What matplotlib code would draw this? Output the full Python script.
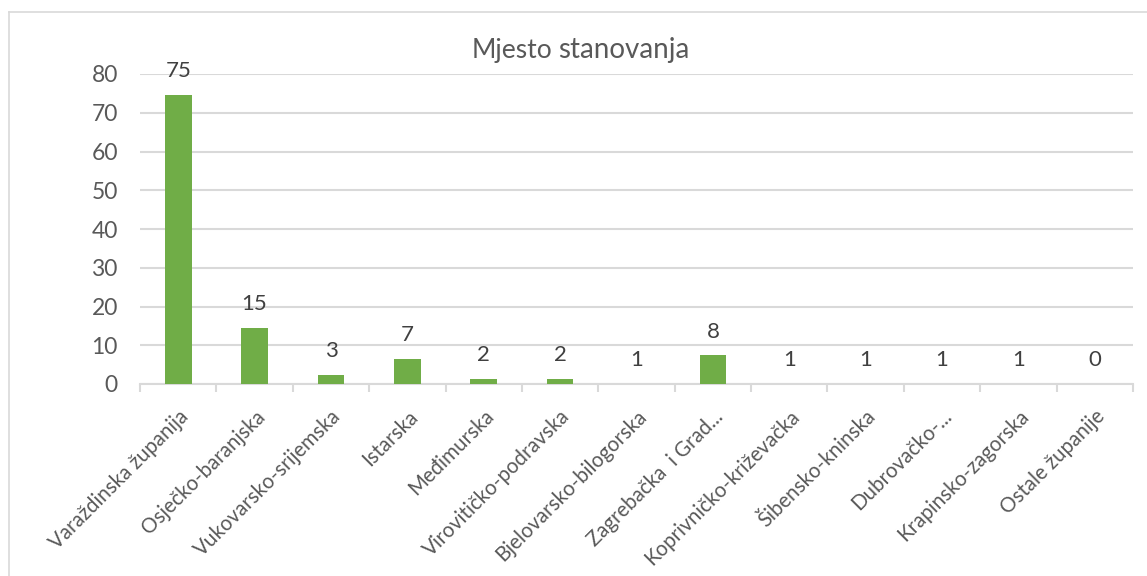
import matplotlib
matplotlib.use("Agg")
import matplotlib.pyplot as plt
from matplotlib.lines import Line2D
import numpy as np

categories = ["Varaždinska županija", "Osječko-baranjska", "Vukovarsko-srijemska",
              "Istarska", "Međimurska", "Virovitičko-podravska", "Bjelovarsko-bilogorska",
              "Zagrebačka  i Grad...", "Koprivničko-križevačka", "Šibensko-kninska",
              "Dubrovačko-...", "Krapinsko-zagorska", "Ostale županije"]
bar_values = [74.6, 14.5, 2.4, 6.5, 1.4, 1.4, 0.1, 7.4, 0.1, 0.1, 0.1, 0.1, 0.0]
data_labels = ["75", "15", "3", "7", "2", "2", "1", "8", "1", "1", "1", "1", "0"]
yticks = [0, 10, 20, 30, 40, 50, 60, 70, 80]

plt.rcParams['font.family'] = ['Lato', 'DejaVu Sans']

W, H = 1147, 576
fig = plt.figure(figsize=(W / 100, H / 100), dpi=100)
ax = fig.add_axes([140 / W, 1 - 384 / H, (1133 - 140) / W, (384 - 74) / H])

x = np.arange(len(categories))
ax.bar(x, bar_values, width=0.35, color="#70ad47", zorder=3)

for xi, v, lab in zip(x, bar_values, data_labels):
    ax.annotate(lab, (xi, v), xytext=(0, 17), textcoords="offset points",
                ha="center", va="center", fontsize=16, color="#404040")

ax.set_xlim(-0.5, len(categories) - 0.5)
ax.set_ylim(0, 80)
ax.set_yticks(yticks)
ax.set_yticklabels([str(t) for t in yticks], fontsize=16.5, color="#595959")
ax.tick_params(axis="y", length=0, pad=16)
ax.yaxis.grid(True, color="#d9d9d9", linewidth=1.5, zorder=0)

ax.set_xticks(x)
ax.set_xticklabels(categories, rotation=45, ha="right", rotation_mode="anchor",
                   fontsize=14.8, color="#595959")
ax.tick_params(axis="x", which="major", length=0, pad=16)
ax.set_xticks(np.arange(-0.5, len(categories)), minor=True)
ax.tick_params(axis="x", which="minor", length=6, color="#d9d9d9", width=1.5)

for s in ["top", "right", "left"]:
    ax.spines[s].set_visible(False)
ax.spines["bottom"].set_color("#d9d9d9")
ax.spines["bottom"].set_linewidth(1.5)

# Title with two sizes
fig.text(552 / W, 1 - 58 / H, "Mjesto", fontsize=19, color="#595959",
         ha="right", va="baseline")
fig.text(558 / W, 1 - 58 / H, "stanovanja", fontsize=20, color="#595959",
         ha="left", va="baseline")

# chart border
fig.add_artist(Line2D([9 / W, 9 / W], [0, 1 - 12 / H], transform=fig.transFigure,
                      color="#d9d9d9", linewidth=1.2))
fig.add_artist(Line2D([9 / W, 1], [1 - 12 / H, 1 - 12 / H], transform=fig.transFigure,
                      color="#d9d9d9", linewidth=1.2))

fig.savefig("out.png", dpi=100)
